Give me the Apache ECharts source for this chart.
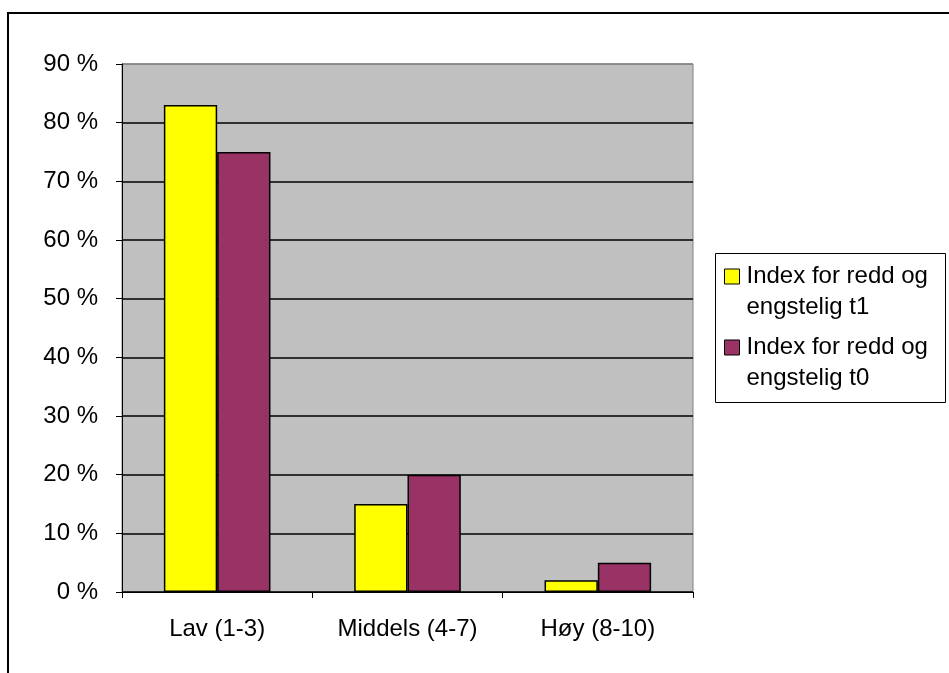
<!DOCTYPE html>
<html>
<head>
<meta charset="utf-8">
<script src="https://cdn.jsdelivr.net/npm/echarts@6/dist/echarts.min.js"></script>
<style>
html,body{margin:0;padding:0;background:#fff;}
#chart{width:949px;height:673px;}
</style>
</head>
<body>
<div id="chart"></div>
<script>
var categories = ['Lav (1-3)', 'Middels (4-7)', 'Høy (8-10)'];
var seriesNames = ['Index for redd og engstelig t1', 'Index for redd og engstelig t0'];
var valuesT1 = [83, 15, 2];
var valuesT0 = [75, 20, 5];
var yTicks = [0, 10, 20, 30, 40, 50, 60, 70, 80, 90];

var FONT = '"Liberation Sans", Arial, sans-serif';
var chart = echarts.init(document.getElementById('chart'));
var option = {
  backgroundColor: '#ffffff',
  animation: false,
  textStyle: {fontFamily: FONT},
  graphic: [
    {
      type: 'rect', z: 100, silent: true,
      shape: {x: 8, y: 13, width: 960, height: 700},
      style: {fill: 'none', stroke: '#000', lineWidth: 2}
    },
    {
      type: 'rect', z: 0, silent: true,
      shape: {x: 715.5, y: 253.5, width: 230, height: 149},
      style: {fill: '#fff', stroke: '#000', lineWidth: 1}
    }
  ],
  grid: {
    left: 122, right: 256, top: 64, bottom: 81,
    show: true, backgroundColor: '#C0C0C0', borderColor: '#808080', borderWidth: 1
  },
  legend: {
    orient: 'vertical',
    left: 715, top: 222,
    padding: [8, 8, 8, 9],
    itemWidth: 15, itemHeight: 15, itemGap: -22,
    icon: 'rect',
    itemStyle: {borderColor: '#000', borderWidth: 1},
    formatter: function (n) { return ' \n' + n.replace(' og ', ' og\n'); },
    textStyle: {fontFamily: FONT, fontSize: 24, color: '#000', lineHeight: 31, padding: [0, 0, 0, 2]},
    data: seriesNames
  },
  xAxis: {
    type: 'category',
    data: categories,
    axisLine: {lineStyle: {color: '#000', width: 1}},
    axisTick: {show: true, length: 6, lineStyle: {color: '#000'}},
    axisLabel: {fontFamily: FONT, fontSize: 24, color: '#000', margin: 25},
    splitLine: {show: false}
  },
  yAxis: {
    type: 'value',
    min: 0, max: 90, interval: 10,
    axisLine: {show: true, lineStyle: {color: '#000', width: 1}},
    axisTick: {show: true, length: 6, lineStyle: {color: '#000'}},
    axisLabel: {fontFamily: FONT, fontSize: 24, color: '#000', margin: 24,
      formatter: function (v) { return v + ' %'; }},
    splitLine: {show: true, lineStyle: {
      color: ['#000', '#000', '#000', '#000', '#000', '#000', '#000', '#000', '#000', '#808080'],
      width: 1.5}}
  },
  series: [
    {
      name: seriesNames[0], type: 'bar', data: valuesT1,
      barGap: '0%', barCategoryGap: '44%',
      itemStyle: {color: '#FFFF00', borderColor: '#000', borderWidth: 1.5}
    },
    {
      name: seriesNames[1], type: 'bar', data: valuesT0,
      barGap: '0%', barCategoryGap: '44%',
      itemStyle: {color: '#993366', borderColor: '#000', borderWidth: 1.5}
    }
  ]
};
chart.setOption(option);
</script>
</body>
</html>
